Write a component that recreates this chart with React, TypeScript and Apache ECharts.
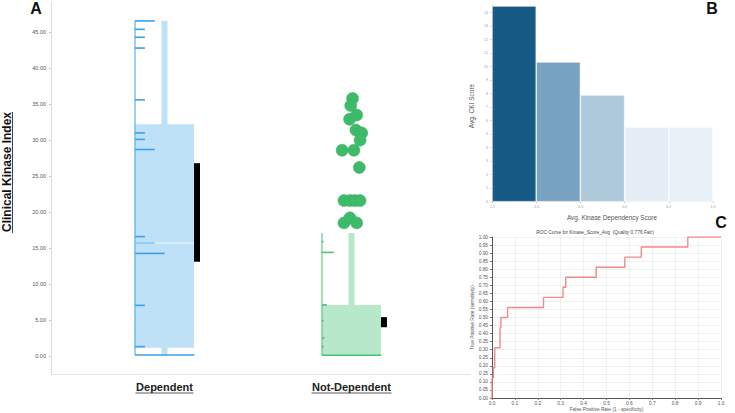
import React, { useEffect, useRef } from 'react';
import * as echarts from 'echarts';

// ---------- Panel A: Clinical Kinase Index by dependency group ----------
const groups = ['Dependent', 'Not-Dependent'];
const groupPos = [1, 2];
const boxLow = [1.15, 0.1];
const boxHigh = [32.2, 7.1];
const whiskerLow = [0.14, 0.1];
const whiskerHigh = [46.6, 17.1];
const medianVal: (number | null)[] = [15.7, null];
const ciLow = [13.1, 4.0];
const ciHigh = [26.8, 5.4];

const depRugValues = [46.57, 45.4, 44.3, 42.8, 35.6, 31.0, 30.1, 28.7, 16.6, 15.7, 14.26, 7.04, 1.3, 0.14];
const depRugWeights = [6, 3, 3, 3, 3, 3, 3, 6, 3, 6, 9, 3, 3, 18];
const ndRugValues = [15.9, 14.4, 7.1, 4.9, 2.5, 1.3, 0.1];
const ndRugWeights = [0.5, 3.6, 1.5, 0.5, 0.8, 0.5, 18];

const outlierX = [2.006, 1.996, 2.028, 1.99, 2.024, 2.055, 2.046, 1.95, 2.013, 2.042, 1.96, 1.992, 2.019, 2.046, 1.96, 1.992, 2.028];
const outlierY = [35.8, 34.8, 33.5, 32.9, 31.4, 31.0, 30.0, 28.6, 28.6, 26.2, 21.6, 21.6, 21.6, 21.6, 18.5, 19.2, 18.5];

const ckiTickLabels = [0, 5, 10, 15, 20, 25, 30, 35, 40, 45];

// ---------- Panel B: Avg. CKI score by kinase dependency bin ----------
const kdsBins = ['-1.5 to -1.0', '-1.0 to -0.5', '-0.5 to 0.0', '0.0 to 0.5', '0.5 to 1.0'];
const ckiAvg = [14.5, 10.35, 7.9, 5.53, 5.53];
const ckiAxisTicks = [0, 1, 2, 3, 4, 5, 6, 7, 8, 9, 10, 11, 12, 13, 14];

// ---------- Panel C: ROC curve ----------
const fpr = [0, 0.006, 0.012, 0.035, 0.039, 0.068, 0.225, 0.31, 0.322, 0.455, 0.58, 0.652, 0.855, 1];
const tpr = [0, 0.125, 0.1875, 0.3125, 0.4375, 0.5, 0.5625, 0.625, 0.6875, 0.75, 0.8125, 0.875, 0.9375, 1];

const FONT = 'Liberation Sans';
const fillColors = ['#bfe1f8', '#b7e8c8'];
const lineColors = ['#3aa1ea', '#46c175'];
const barColors = ['#175a85', '#77a3c0', '#adc9da', '#e5eef7', '#e8f0f8'];
const BOX_W = 59;
const WH_W = 6;
const CI_W = 6;
const RUG_UNIT = 3.3;

export default function App() {
  const ref = useRef<HTMLDivElement>(null);
  useEffect(() => {
    document.body.style.margin = '0';
    const chart = echarts.init(ref.current!, null, { renderer: 'svg' });

    const rugData: number[][] = [];
    depRugValues.forEach((v, k) => rugData.push([0, v, depRugWeights[k]]));
    ndRugValues.forEach((v, k) => rugData.push([1, v, ndRugWeights[k]]));

    const option: any = {
      animation: false,
      textStyle: { fontFamily: FONT },
      grid: [
        { left: 51, top: 2, width: 419, height: 372 },
        { left: 492, top: 4.6, width: 221, height: 197.1 },
        { left: 492, top: 237, width: 229, height: 161 },
      ],
      xAxis: [
        {
          type: 'value', gridIndex: 0, min: 0.393, max: 2.634,
          axisLine: { show: true, onZero: false, lineStyle: { color: '#e4e4e4' } },
          axisTick: { show: false },
          splitLine: { show: false },
          axisLabel: {
            customValues: groupPos,
            formatter: (v: number) => groups[groupPos.indexOf(v)] ?? '',
            fontSize: 11, fontWeight: 'bold', color: '#222', margin: 7,
          },
        },
        { type: 'category', gridIndex: 1, data: kdsBins, show: false, position: 'bottom' },
        {
          type: 'value', gridIndex: 1, min: -1.5, max: 1.0, interval: 0.5, position: 'bottom',
          axisLine: { show: true, onZero: false, lineStyle: { color: '#dcdcdc' } },
          axisTick: { show: true, length: 1.5, lineStyle: { color: '#ccc' } },
          splitLine: { show: false },
          axisLabel: { fontSize: 3.5, color: '#999', margin: 3, formatter: (v: number) => v.toFixed(1) },
        },
        {
          type: 'value', gridIndex: 2, min: 0, max: 1, interval: 0.1,
          axisLine: { show: true, onZero: false, lineStyle: { color: '#555' } },
          axisTick: { show: true, length: 2, lineStyle: { color: '#777' } },
          splitLine: { show: true, lineStyle: { color: '#ececec', width: 0.8 } },
          axisLabel: { fontSize: 4.8, color: '#555', margin: 2.5, formatter: (v: number) => v.toFixed(1) },
          name: 'False Positive Rate (1 - specificity)', nameLocation: 'middle', nameGap: 8.5,
          nameTextStyle: { fontSize: 4.8, color: '#555' },
        },
      ],
      yAxis: [
        {
          type: 'value', gridIndex: 0, min: -2.5, max: 49.2,
          axisLine: { show: true, onZero: false, lineStyle: { color: '#dddddd' } },
          axisTick: { show: true, length: 2, customValues: ckiTickLabels, lineStyle: { color: '#ccc' } },
          splitLine: { show: false },
          axisLabel: {
            customValues: ckiTickLabels, fontSize: 5.5, color: '#555', margin: 5,
            formatter: (v: number) => v.toFixed(2),
          },
        },
        {
          type: 'value', gridIndex: 1, min: 0, max: 14.6,
          axisLine: { show: true, onZero: false, lineStyle: { color: '#e2e2e2' } },
          axisTick: { show: true, length: 1.5, customValues: ckiAxisTicks, lineStyle: { color: '#ccc' } },
          splitLine: { show: false },
          axisLabel: { customValues: ckiAxisTicks, fontSize: 3.5, color: '#999', margin: 4 },
        },
        {
          type: 'value', gridIndex: 2, min: 0, max: 1, interval: 0.05,
          axisLine: { show: true, onZero: false, lineStyle: { color: '#555' } },
          axisTick: { show: true, length: 2, lineStyle: { color: '#777' } },
          splitLine: { show: true, lineStyle: { color: '#ececec', width: 0.8 } },
          axisLabel: { fontSize: 4.8, color: '#555', margin: 4, formatter: (v: number) => v.toFixed(2) },
          name: 'True Positive Rate (sensitivity)', nameLocation: 'middle', nameGap: 16.5,
          nameTextStyle: { fontSize: 4.8, color: '#555' },
        },
      ],
      series: [
        {
          type: 'custom', xAxisIndex: 0, yAxisIndex: 0, silent: true,
          data: groups.map((_, i) => [groupPos[i], boxLow[i], boxHigh[i]]),
          encode: { x: 0, y: [1, 2] },
          renderItem: (params: any, api: any) => {
            const i = params.dataIndex;
            const cx = api.coord([groupPos[i], 0])[0];
            const y = (v: number) => api.coord([groupPos[i], v])[1];
            const half = BOX_W / 2;
            return {
              type: 'group',
              children: [
                { type: 'rect', shape: { x: cx - WH_W / 2, y: y(whiskerHigh[i]), width: WH_W, height: y(whiskerLow[i]) - y(whiskerHigh[i]) }, style: { fill: fillColors[i] } },
                { type: 'rect', shape: { x: cx - half, y: y(boxHigh[i]), width: BOX_W, height: y(boxLow[i]) - y(boxHigh[i]) }, style: { fill: fillColors[i] } },
                { type: 'line', shape: { x1: cx - half, y1: y(whiskerHigh[i]), x2: cx - half, y2: y(whiskerLow[i]) }, style: { stroke: lineColors[i], lineWidth: 1 } },
                { type: 'rect', shape: { x: cx + half, y: y(ciHigh[i]), width: CI_W, height: y(ciLow[i]) - y(ciHigh[i]) }, style: { fill: '#000' } },
              ],
            };
          },
        },
        {
          type: 'custom', xAxisIndex: 0, yAxisIndex: 0, silent: true,
          data: rugData,
          encode: { y: 1 },
          renderItem: (params: any, api: any) => {
            const g = api.value(0);
            const v = api.value(1);
            const w = api.value(2);
            const p = api.coord([groupPos[g], v]);
            const x0 = p[0] - BOX_W / 2;
            return {
              type: 'line',
              shape: { x1: x0, y1: p[1], x2: x0 + w * RUG_UNIT, y2: p[1] },
              style: { stroke: lineColors[g], lineWidth: 1.6 },
            };
          },
        },
        {
          type: 'custom', xAxisIndex: 0, yAxisIndex: 0, silent: true,
          data: groups.map((_, i) => [groupPos[i], medianVal[i] ?? 0, medianVal[i] == null ? 0 : 1]),
          encode: { x: 0, y: 1 },
          renderItem: (params: any, api: any) => {
            if (!api.value(2)) return null;
            const p = api.coord([api.value(0), api.value(1)]);
            return {
              type: 'line',
              shape: { x1: p[0] - BOX_W / 2, y1: p[1], x2: p[0] + BOX_W / 2, y2: p[1] },
              style: { stroke: 'rgba(255,255,255,0.5)', lineWidth: 1.5 },
            };
          },
        },
        {
          type: 'scatter', xAxisIndex: 0, yAxisIndex: 0, silent: true,
          symbolSize: 12,
          itemStyle: { color: '#3dbb6b', borderColor: '#36ad60', borderWidth: 0.5, opacity: 1 },
          data: outlierX.map((x, i) => [x, outlierY[i]]),
        },
        {
          type: 'bar', xAxisIndex: 1, yAxisIndex: 1, silent: true,
          barCategoryGap: '0%',
          data: ckiAvg.map((v, i) => ({ value: v, itemStyle: { color: barColors[i] } })),
          itemStyle: { borderColor: '#ffffff', borderWidth: 0.6 },
        },
        {
          type: 'line', xAxisIndex: 3, yAxisIndex: 2, silent: true,
          step: 'start', showSymbol: false, symbol: 'none',
          lineStyle: { color: '#f08a8a', width: 1.4 },
          data: fpr.map((x, i) => [x, tpr[i]]),
        },
      ],
      graphic: [
        { type: 'text', x: 36, y: 8, style: { text: 'A', font: `bold 16px "${FONT}"`, fill: '#111', align: 'center', verticalAlign: 'middle' } },
        { type: 'text', x: 712, y: 8, style: { text: 'B', font: `bold 16px "${FONT}"`, fill: '#111', align: 'center', verticalAlign: 'middle' } },
        { type: 'text', x: 721, y: 222, style: { text: 'C', font: `bold 16px "${FONT}"`, fill: '#111', align: 'center', verticalAlign: 'middle' } },
        { type: 'text', x: 6.5, y: 172, rotation: Math.PI / 2, style: { text: 'Clinical Kinase Index', font: `bold 12px "${FONT}"`, fill: '#111', align: 'center', verticalAlign: 'middle' } },
        { type: 'line', shape: { x1: 12.5, y1: 112, x2: 12.5, y2: 233 }, style: { stroke: '#111', lineWidth: 0.8 } },
        { type: 'line', shape: { x1: 135.5, y1: 393, x2: 193.5, y2: 393 }, style: { stroke: '#333', lineWidth: 0.8 } },
        { type: 'line', shape: { x1: 311.5, y1: 393, x2: 391.5, y2: 393 }, style: { stroke: '#333', lineWidth: 0.8 } },
        { type: 'text', x: 612, y: 217, style: { text: 'Avg. Kinase Dependency Score', font: `6.4px "${FONT}"`, fill: '#555', align: 'center', verticalAlign: 'middle' } },
        { type: 'text', x: 471, y: 106, rotation: Math.PI / 2, style: { text: 'Avg. CKI Score', font: `6.5px "${FONT}"`, fill: '#555', align: 'center', verticalAlign: 'middle' } },
        { type: 'text', x: 595, y: 232, style: { text: 'ROC Curve for Kinase_Score_Avg  (Quality 0.776 Fair)', font: `4.8px "${FONT}"`, fill: '#444', align: 'center', verticalAlign: 'middle' } },
      ],
    };
    chart.setOption(option);
    return () => chart.dispose();
  }, []);
  return <div ref={ref} style={{ width: 735, height: 413 }} />;
}
